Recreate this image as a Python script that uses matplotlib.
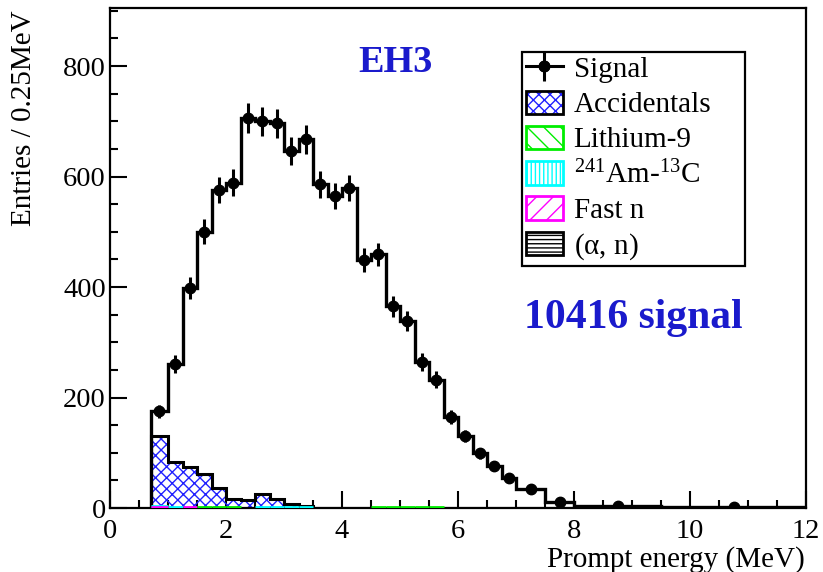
import numpy as np
import matplotlib
matplotlib.use("Agg")
import matplotlib.pyplot as plt
from matplotlib.patches import Patch
from matplotlib.lines import Line2D
from matplotlib.ticker import MultipleLocator

plt.rcParams['font.family'] = ['Liberation Serif', 'DejaVu Serif']
plt.rcParams['mathtext.fontset'] = 'custom'
plt.rcParams['mathtext.rm'] = 'Liberation Serif'
plt.rcParams['mathtext.it'] = 'Liberation Serif:italic'
plt.rcParams['hatch.linewidth'] = 1.0

# Prompt-energy binning (MeV)
bin_edges = [0.7, 1.0, 1.25, 1.5, 1.75, 2.0, 2.25, 2.5, 2.75, 3.0, 3.25, 3.5,
             3.75, 4.0, 4.25, 4.5, 4.75, 5.0, 5.25, 5.5, 5.75, 6.0, 6.25, 6.5,
             6.75, 7.0, 7.5, 8.0, 9.5, 12.0]

# Entries per 0.25 MeV
signal = [175, 261, 398, 500, 576, 589, 706, 700, 696, 646, 667, 586, 565,
          579, 449, 459, 365, 339, 265, 232, 165, 130, 99, 76, 55, 34, 10, 3, 1]
accidentals = [131, 83, 74, 61, 37, 17, 14, 25, 17, 8, 4, 0, 0, 0, 0, 0, 0,
               0, 0, 0, 0, 0, 0, 0, 0, 0, 0, 0, 0]
lithium9 = [0, 0, 0, 2, 2, 2, 0, 0, 0, 0, 0, 0, 0, 0, 0, 2, 2, 2, 2, 2, 0,
            0, 0, 0, 0, 0, 0, 0, 0]
amc = [3, 2, 0, 0, 0, 0, 0, 2, 2, 2, 2, 0, 0, 0, 0, 0, 0, 0, 0, 0, 0, 0, 0,
       0, 0, 0, 0, 0, 0]
fast_n = [1, 0, 2, 0, 0, 0, 0, 0, 0, 0, 0, 0, 0, 0, 0, 0, 0, 0, 0, 0, 0, 0,
          0, 0, 0, 0, 0, 0, 0]

x_ticks = [0, 2, 4, 6, 8, 10, 12]
y_ticks = [0, 200, 400, 600, 800]

edges = np.array(bin_edges)
sig = np.array(signal, dtype=float)
centers = 0.5 * (edges[:-1] + edges[1:])
scale = (edges[1:] - edges[:-1]) / 0.25
sig_err = np.sqrt(sig * scale) / scale

W, H = 823, 572
fig = plt.figure(figsize=(W / 100, H / 100), dpi=100)
ax = fig.add_axes([110 / W, (H - 508) / H, 696 / W, 500 / H])

# accidentals: blue cross-hatch with black outline
ax.stairs(accidentals, edges, fill=True, facecolor='none', edgecolor='#2020ff',
          hatch='xxx', linewidth=0, zorder=2)
ax.stairs(accidentals, edges, color='black', linewidth=2.2, zorder=3)

# small backgrounds, drawn only where non-zero
def small_bkg(vals, color):
    v = np.array(vals, dtype=float)
    m = v > 0
    ax.hlines(v[m], edges[:-1][m], edges[1:][m], colors=color, linewidth=2.0,
              zorder=4)

small_bkg(amc, '#00ffff')
small_bkg(fast_n, '#ff00ff')
small_bkg(lithium9, '#00ee00')

# total spectrum
ax.stairs(sig, edges, color='black', linewidth=2.4, zorder=3)
eb = ax.errorbar(centers, sig, yerr=sig_err, fmt='o', color='black',
                 markersize=7.5, elinewidth=2.2, capsize=0, zorder=5)

ax.set_xlim(0, 12)
ax.set_ylim(0, 905)
ax.set_xticks(x_ticks)
ax.set_yticks(y_ticks)
ax.xaxis.set_minor_locator(MultipleLocator(0.5))
ax.yaxis.set_minor_locator(MultipleLocator(50))
ax.tick_params(which='both', direction='in', top=False, right=False,
               width=1.5, labelsize=20.5)
ax.tick_params(which='major', length=12)
ax.tick_params(which='minor', length=6)
ax.tick_params(axis='y', pad=3)
ax.tick_params(axis='x', pad=8)
for s in ax.spines.values():
    s.set_linewidth(1.6)

fig.text(805 / W, (H - 567) / H, 'Prompt energy (MeV)', ha='right',
         va='baseline', fontsize=21)
fig.text(24 / W, (H - 10) / H, 'Entries / 0.25MeV', rotation=90,
         ha='center', va='top', fontsize=21)

ax.text(0.4095, 0.892, 'EH3', transform=ax.transAxes, ha='center',
        va='center', fontsize=27.5, fontweight='bold', color='#1a1acc')
ax.text(0.7514, 0.38, '10416 signal', transform=ax.transAxes, ha='center',
        va='center', fontsize=30, fontweight='bold', color='#1a1acc')

signal_handle = (Line2D([], [], color='black', linewidth=2.2, marker='o',
                        markersize=7.5), eb)
handles = [
    signal_handle,
    (Patch(facecolor='white', edgecolor='#2020ff', hatch='xxx', linewidth=0),
     Patch(facecolor='none', edgecolor='black', linewidth=2)),
    Patch(facecolor='white', edgecolor='#00ee00', hatch='\\\\', linewidth=2),
    Patch(facecolor='white', edgecolor='#00ffff', hatch='||||', linewidth=2),
    Patch(facecolor='white', edgecolor='#ff00ff', hatch='//', linewidth=2),
    Patch(facecolor='white', edgecolor='black', hatch='----', linewidth=2),
]
labels = ['Signal', 'Accidentals', 'Lithium-9', r'$^{241}$Am-$^{13}$C',
          'Fast n', r'($\mathrm{\alpha}$, n)']
x0 = (522 - 110) / 696
x1 = (745 - 110) / 696
y1 = (508 - 52) / 500
leg = ax.legend(handles, labels, loc='upper left',
                bbox_to_anchor=(x0, y1 - 0.5, x1 - x0, 0.5), mode='expand',
                borderaxespad=0, fancybox=False, frameon=True,
                edgecolor='black', framealpha=1, fontsize=21,
                handlelength=1.3, handleheight=0.85, handletextpad=0.35,
                labelspacing=0.25, borderpad=0.12)
leg.get_frame().set_linewidth(1.6)

fig.savefig('out.png', dpi=100)
